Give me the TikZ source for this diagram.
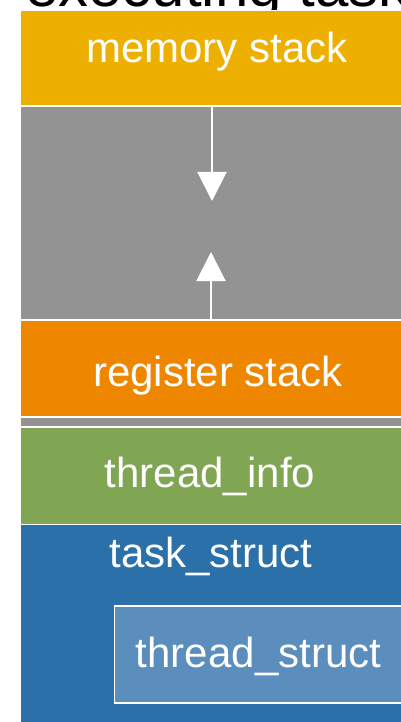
\documentclass[tikz,border=0pt]{standalone}
\usepackage{fontspec}
\setmainfont{Liberation Sans}
\usetikzlibrary{arrows.meta}
\definecolor{memyellow}{RGB}{237,176,0}
\definecolor{gapgray}{RGB}{147,147,147}
\definecolor{regorange}{RGB}{238,134,0}
\definecolor{infogreen}{RGB}{128,166,84}
\definecolor{taskblue}{RGB}{43,112,168}
\definecolor{threadblue}{RGB}{91,142,188}
\tikzset{
  region/.style={draw=white, line width=1.6pt, anchor=north west, inner sep=0pt, outer sep=0pt},
  lbl/.style={text=white, font=\fontsize{42}{50}\selectfont, anchor=base, inner sep=0pt},
  growth/.style={draw=white, line width=2pt, -{Triangle[width=29pt,length=29pt]}},
}
\begin{document}
\begin{tikzpicture}[x=1pt,y=-1pt]
\useasboundingbox (0,0) rectangle (400,722);
% title line running off the top edge
\node[anchor=base west, inner sep=0pt, font=\fontsize{60}{64}\selectfont] (title) at (25,7) {executing task};
% stacked memory regions
\node[region, fill=memyellow, minimum width=394pt, minimum height=95pt] (mem) at (20,10.5) {};
\node[region, fill=gapgray, minimum width=394pt, minimum height=213pt] (gap) at (20,106.5) {};
\node[region, fill=regorange, minimum width=394pt, minimum height=96pt] (reg) at (20,320.5) {};
\node[region, fill=gapgray, minimum width=394pt, minimum height=9pt] (gap2) at (20,417.5) {};
\node[region, fill=infogreen, minimum width=394pt, minimum height=97pt] (info) at (20,427.5) {};
\node[region, fill=taskblue, minimum width=394pt, minimum height=210pt] (task) at (20,524.5) {};
\node[region, fill=threadblue, minimum width=290pt, minimum height=97pt] (thr) at (114.5,606) {};
% labels
\node[lbl] (memtxt) at (217,63) {memory stack};
\node[lbl] (regtxt) at (218,386) {register stack};
\node[lbl] (infotxt) at (210,487) {thread\_info};
\node[lbl] (tasktxt) at (211,567) {task\_struct};
\node[lbl] (thrtxt) at (258.5,667) {thread\_struct};
% growth directions of the two stacks
\coordinate (memtop) at (212,106.5);
\coordinate (memend) at (212,201);
\coordinate (regtop) at (211,320.5);
\coordinate (regend) at (211,252);
\draw[growth] (memtop) -- (memend);
\draw[growth] (regtop) -- (regend);
\end{tikzpicture}
\end{document}
